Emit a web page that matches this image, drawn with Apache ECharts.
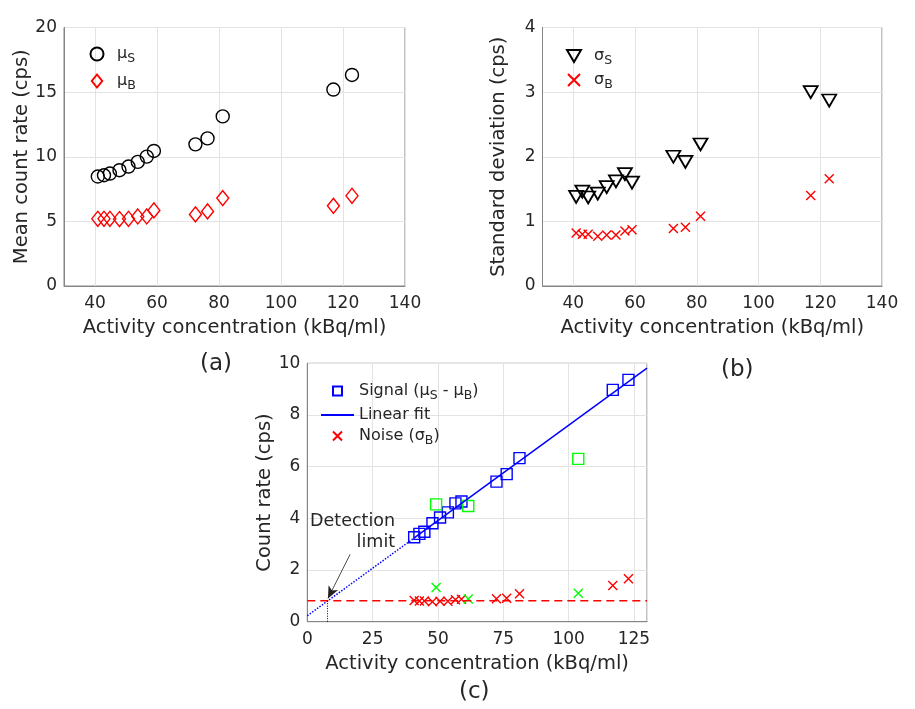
<!DOCTYPE html>
<html>
<head>
<meta charset="utf-8">
<title>Signal, noise and detection limit</title>
<script src="https://cdn.jsdelivr.net/npm/echarts@6/dist/echarts.min.js"></script>
<style>
    html, body { margin: 0; padding: 0; background: #fff; }
    #main { width: 915px; height: 709px; }
</style>
</head>
<body>
<div id="main"></div>
<script>
// activity concentration of each measurement (kBq/ml)
var conc   = [40.9, 42.9, 44.8, 47.9, 50.8, 53.8, 56.7, 59.0, 72.4, 76.3, 81.2, 116.9, 122.9];
var muS    = [8.47, 8.57, 8.70, 8.96, 9.24, 9.60, 10.01, 10.45, 10.96, 11.42, 13.12, 15.2, 16.33];
var muB    = [5.20, 5.20, 5.20, 5.18, 5.20, 5.38, 5.38, 5.85, 5.54, 5.77, 6.80, 6.20, 6.98];
var sigS   = [1.38, 1.46, 1.37, 1.43, 1.53, 1.62, 1.73, 1.60, 2.00, 1.92, 2.19, 3.00, 2.87];
var sigB   = [0.82, 0.80, 0.80, 0.77, 0.79, 0.79, 0.85, 0.87, 0.89, 0.91, 1.08, 1.40, 1.66];
var signal = [3.27, 3.40, 3.48, 3.81, 4.03, 4.23, 4.58, 4.65, 5.42, 5.71, 6.33, 8.97, 9.36];

// excluded measurements (green)
var outConc   = [49.3, 61.6, 103.7];
var outSignal = [4.54, 4.48, 6.30];
var outNoise  = [1.32, 0.88, 1.10];

// linear fit (dotted below first point, solid above)
var fitX = [0, 40.9, 130];
var fitY = [0.23, 3.24, 9.81];
var noiseLevel = 0.81;
var detLimit = 7.8;
var arrowFrom = [16.4, 2.61];
var arrowTo = [7.9, 0.9];

var abTicks = [40, 60, 80, 100, 120, 140];

function pairs(xs, ys) {
    var out = [];
    for (var i = 0; i < xs.length; i++) out.push([xs[i], ys[i]]);
    return out;
}

var textColor = '#262626';
var frameColor = '#858585';
var gridColor = '#e3e3e3';
var font = 'DejaVu Sans';
var crossPath = 'path://M0,0L10,10M10,0L0,10';
var triDown = 'path://M0,0L14,0L7,12Z';
var diamondPath = 'path://M6,0L12,7.5L6,15L0,7.5Z';
var squarePath = 'path://M0,0L10,0L10,10L0,10Z';

var rich = {
    g: { fontSize: 16, fontFamily: font, color: textColor, lineHeight: 22 },
    s: { fontSize: 12.5, fontFamily: font, color: textColor, lineHeight: 11, verticalAlign: 'bottom' }
};
var legendText = {
    muS: '{g|μ}{s|S}',
    muB: '{g|μ}{s|B}',
    sigS: '{g|σ}{s|S}',
    sigB: '{g|σ}{s|B}',
    signal: '{g|Signal (μ}{s|S}{g| - μ}{s|B}{g|)}',
    fit: '{g|Linear fit}',
    noise: '{g|Noise (σ}{s|B}{g|)}'
};

function xAxisOf(idx, min, max, interval, custom) {
    var ax = {
        gridIndex: idx, type: 'value', min: min, max: max, interval: interval,
        name: 'Activity concentration (kBq/ml)', nameLocation: 'middle', nameGap: 32,
        nameTextStyle: { fontSize: 19.5, color: textColor, fontFamily: font },
        axisLine: { lineStyle: { color: frameColor } },
        axisTick: { show: false },
        axisLabel: { fontSize: 17, color: textColor, fontFamily: font, margin: 9 },
        splitLine: { lineStyle: { color: gridColor } }
    };
    if (custom) {
        ax.axisLabel.customValues = custom;
        ax.axisTick.customValues = custom;
    } else {
        ax.axisLabel.showMaxLabel = false;
    }
    return ax;
}

function yAxisOf(idx, max, interval, name, gap) {
    return {
        gridIndex: idx, type: 'value', min: 0, max: max, interval: interval,
        name: name, nameLocation: 'middle', nameGap: gap,
        nameTextStyle: { fontSize: 19.5, color: textColor, fontFamily: font },
        axisLine: { show: true, lineStyle: { color: frameColor } },
        axisTick: { show: false },
        axisLabel: { fontSize: 17, color: textColor, fontFamily: font, margin: 7 },
        splitLine: { lineStyle: { color: gridColor } }
    };
}

function marker(color, w) {
    return { color: 'transparent', borderColor: color, borderWidth: w || 1.4, opacity: 1 };
}

function legendOf(left, top, gap, h, names) {
    return {
        left: left, top: top, orient: 'vertical', itemGap: gap, padding: 0,
        itemWidth: 30, itemHeight: h, symbolKeepAspect: true, data: names,
        formatter: function (n) { return legendText[n]; },
        textStyle: { rich: rich }
    };
}

var myChart = echarts.init(document.getElementById('main'));

var legC = legendOf(320, 383, 5, 9, ['signal', { name: 'fit', itemStyle: { opacity: 0 } }, 'noise']);
legC.itemWidth = 33;

var option = {
    backgroundColor: '#fff',
    animation: false,
    grid: [
        { left: 64, top: 27.5, width: 341, height: 258.5, show: true, borderColor: frameColor, borderWidth: 1 },
        { left: 542.5, top: 27.5, width: 339.5, height: 258.5, show: true, borderColor: frameColor, borderWidth: 1 },
        { left: 307.3, top: 363.3, width: 339.7, height: 258.4, show: true, borderColor: frameColor, borderWidth: 1 }
    ],
    xAxis: [
        xAxisOf(0, 30, 140, 10, abTicks),
        xAxisOf(1, 30, 140, 10, abTicks),
        xAxisOf(2, 0, 130, 25, null)
    ],
    yAxis: [
        yAxisOf(0, 20, 5, 'Mean count rate (cps)', 25.5),
        yAxisOf(1, 4, 1, 'Standard deviation (cps)', 34),
        yAxisOf(2, 10, 2, 'Count rate (cps)', 32)
    ],
    legend: [
        legendOf(89.5, 46, 8, 13, ['muS', 'muB']),
        legendOf(566, 48, 5, 12, ['sigS', 'sigB']),
        legC
    ],
    graphic: [
        { type: 'text', left: 200, top: 353, style: { text: '(a)', fontSize: 23, fill: textColor, fontFamily: font } },
        { type: 'text', left: 721, top: 359, style: { text: '(b)', fontSize: 23, fill: textColor, fontFamily: font } },
        { type: 'text', left: 459, top: 681, style: { text: '(c)', fontSize: 23, fill: textColor, fontFamily: font } }
    ],
    series: [
        // (a)
        { name: 'muS', type: 'scatter', xAxisIndex: 0, yAxisIndex: 0, symbol: 'circle', symbolSize: 13,
          itemStyle: marker('#000'), data: pairs(conc, muS) },
        { name: 'muB', type: 'scatter', xAxisIndex: 0, yAxisIndex: 0, symbol: diamondPath, symbolSize: [12, 15],
          itemStyle: marker('#ff0000'), data: pairs(conc, muB) },
        // (b)
        { name: 'sigS', type: 'scatter', xAxisIndex: 1, yAxisIndex: 1, symbol: triDown,
          symbolSize: [14, 12], itemStyle: marker('#000', 1.8), data: pairs(conc, sigS) },
        { name: 'sigB', type: 'scatter', xAxisIndex: 1, yAxisIndex: 1, symbol: crossPath, symbolSize: 9,
          itemStyle: marker('#ff0000'), data: pairs(conc, sigB) },
        // (c)
        { name: 'dotfit', type: 'line', xAxisIndex: 2, yAxisIndex: 2, symbol: 'none', silent: true,
          lineStyle: { color: '#0000ff', width: 1.5, type: [1.5, 1.5] },
          data: [[fitX[0], fitY[0]], [fitX[1], fitY[1]]],
          markLine: {
              silent: true, symbol: 'none', label: { show: false },
              data: [
                  [{ coord: [detLimit, 0], lineStyle: { color: '#000', width: 1, type: [1, 1.5] } },
                   { coord: [detLimit, noiseLevel] }],
                  [{ coord: arrowFrom, symbol: 'none', lineStyle: { color: '#222', width: 0.8, type: 'solid' } },
                   { coord: arrowTo, symbol: 'arrow', symbolSize: [8, 12] }]
              ]
          }
        },
        { name: 'fit', type: 'line', xAxisIndex: 2, yAxisIndex: 2, symbol: 'none',
          lineStyle: { color: '#0000ff', width: 1.5 }, itemStyle: { color: '#0000ff' },
          data: [[fitX[1], fitY[1]], [fitX[2], fitY[2]]] },
        { name: 'noiseLevel', type: 'line', xAxisIndex: 2, yAxisIndex: 2, symbol: 'none', silent: true,
          lineStyle: { color: '#ff0000', width: 1.5, type: [8, 5] },
          data: [[0, noiseLevel], [130, noiseLevel]] },
        { name: 'signal', type: 'scatter', xAxisIndex: 2, yAxisIndex: 2, symbol: squarePath, symbolSize: 11,
          itemStyle: marker('#0000ff'), data: pairs(conc, signal) },
        { name: 'noise', type: 'scatter', xAxisIndex: 2, yAxisIndex: 2, symbol: crossPath, symbolSize: 9,
          itemStyle: marker('#ff0000'), data: pairs(conc, sigB) },
        { name: 'outSignal', type: 'scatter', xAxisIndex: 2, yAxisIndex: 2, symbol: squarePath, symbolSize: 11,
          itemStyle: marker('#00ff00'), data: pairs(outConc, outSignal) },
        { name: 'outNoise', type: 'scatter', xAxisIndex: 2, yAxisIndex: 2, symbol: crossPath, symbolSize: 9,
          itemStyle: marker('#00ff00'), data: pairs(outConc, outNoise) },
        { name: 'detText', type: 'scatter', xAxisIndex: 2, yAxisIndex: 2, symbolSize: 0, silent: true,
          itemStyle: { opacity: 1 }, data: [[33.6, 3.47]],
          label: { show: true, position: 'left', distance: 0, formatter: 'Detection\nlimit',
                   align: 'right', fontSize: 17.5, lineHeight: 21, color: textColor, fontFamily: font } }
    ]
};

myChart.setOption(option);
</script>
</body>
</html>
